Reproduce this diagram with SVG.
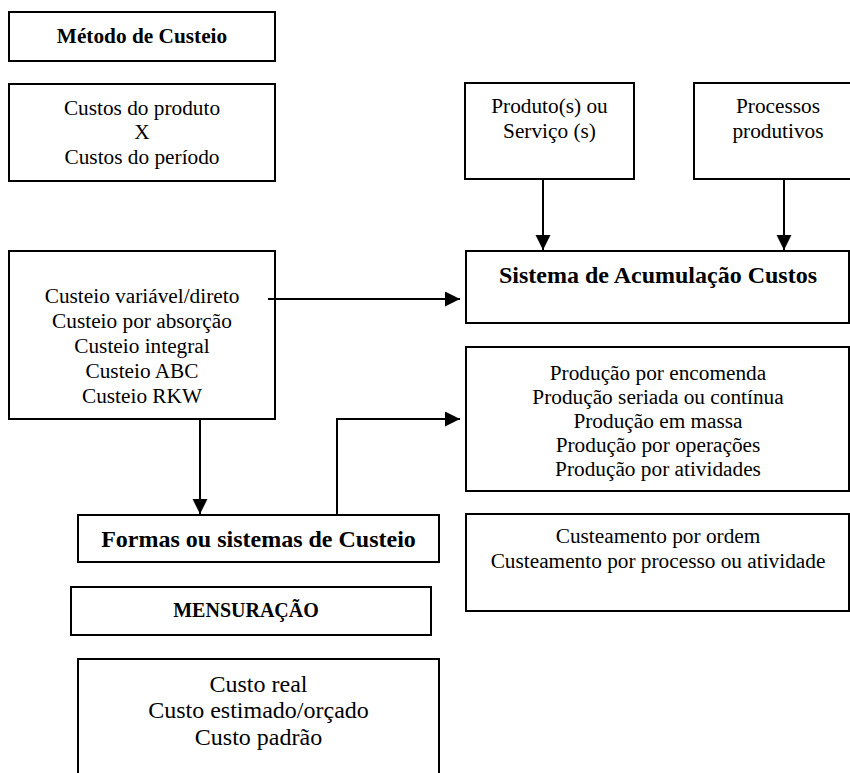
<svg xmlns="http://www.w3.org/2000/svg" width="850" height="773" viewBox="0 0 850 773">
  <defs>
    <marker id="arrow" markerUnits="userSpaceOnUse" markerWidth="16" markerHeight="16" refX="15" refY="7.5" orient="auto">
      <path d="M0,0 L15,7.5 L0,15 Z" fill="#000"/>
    </marker>
    <style>
      .box { fill: #fff; stroke: #000; stroke-width: 2; }
      text { fill: #000; text-anchor: middle; }
      .big { font-size: 24px; }
      .bold { font-weight: bold; }
      .conn { fill: none; stroke: #000; stroke-width: 2; }
    </style>
  </defs>
  <rect width="850" height="773" fill="#fff"/>

  <g font-family="Liberation Serif, Times New Roman, serif" font-size="21.3">
  <g id="metodo">
    <rect class="box" x="9" y="12" width="266" height="49"/>
    <text class="bold" x="142" y="43">Método de Custeio</text>
  </g>

  <g id="custos-produto-periodo">
    <rect class="box" x="9" y="84" width="266" height="97"/>
    <text x="142" y="115">Custos do produto</text>
    <text x="142" y="139">X</text>
    <text x="142" y="164">Custos do período</text>
  </g>

  <g id="produtos-servicos">
    <rect class="box" x="465" y="83" width="169" height="96"/>
    <text x="549.5" y="113">Produto(s) ou</text>
    <text x="549.5" y="138">Serviço (s)</text>
  </g>

  <g id="processos">
    <rect class="box" x="694" y="83" width="170" height="96"/>
    <text x="778" y="113">Processos</text>
    <text x="778" y="138">produtivos</text>
  </g>

  <g id="sistema-acumulacao">
    <rect class="box" x="466" y="251" width="383" height="72"/>
    <text class="big bold" x="658" y="283">Sistema de Acumulação Custos</text>
  </g>

  <g id="metodos-custeio">
    <rect class="box" x="9" y="251" width="266" height="168"/>
    <text x="142" y="303">Custeio variável/direto</text>
    <text x="142" y="328">Custeio por absorção</text>
    <text x="142" y="353">Custeio integral</text>
    <text x="142" y="378">Custeio ABC</text>
    <text x="142" y="403">Custeio RKW</text>
  </g>

  <g id="tipos-producao">
    <rect class="box" x="466" y="347" width="383" height="144"/>
    <text x="658" y="380">Produção por encomenda</text>
    <text x="658" y="404">Produção seriada ou contínua</text>
    <text x="658" y="428">Produção em massa</text>
    <text x="658" y="452">Produção por operações</text>
    <text x="658" y="476">Produção por atividades</text>
  </g>

  <g id="custeamento">
    <rect class="box" x="466" y="514" width="383" height="97"/>
    <text x="658" y="543">Custeamento por ordem</text>
    <text x="658" y="568">Custeamento por processo ou atividade</text>
  </g>

  <g id="formas-sistemas">
    <rect class="box" x="78" y="515" width="361" height="47"/>
    <text class="big bold" x="258.5" y="547">Formas ou sistemas de Custeio</text>
  </g>

  <g id="mensuracao">
    <rect class="box" x="71" y="587" width="360" height="48"/>
    <text class="bold" x="246" y="617" font-size="20">MENSURAÇÃO</text>
  </g>

  <g id="tipos-custo">
    <rect class="box" x="78" y="659" width="361" height="130"/>
    <text class="big" x="258.5" y="692">Custo real</text>
    <text class="big" x="258.5" y="718">Custo estimado/orçado</text>
    <text class="big" x="258.5" y="745">Custo padrão</text>
  </g>
  </g>

  <g id="connectors">
    <line class="conn" x1="543" y1="179" x2="543" y2="250" marker-end="url(#arrow)"/>
    <line class="conn" x1="784" y1="179" x2="784" y2="250" marker-end="url(#arrow)"/>
    <line class="conn" x1="268" y1="299" x2="460" y2="299" marker-end="url(#arrow)"/>
    <line class="conn" x1="200" y1="419" x2="200" y2="514" marker-end="url(#arrow)"/>
    <polyline class="conn" points="337,515 337,419 460,419" marker-end="url(#arrow)"/>
  </g>
</svg>
